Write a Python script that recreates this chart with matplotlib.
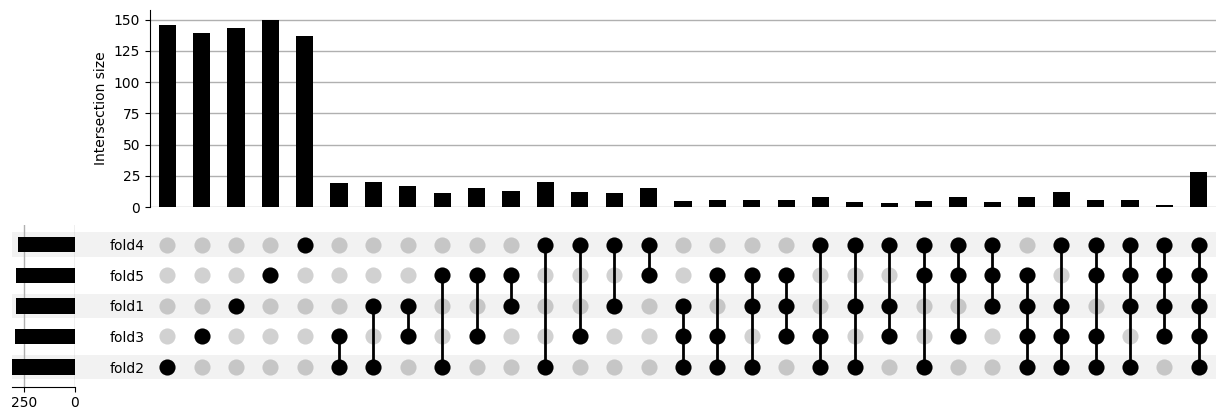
import numpy as np
import matplotlib
matplotlib.use("Agg")
import matplotlib.pyplot as plt
from matplotlib.patches import Rectangle
from matplotlib.transforms import blended_transform_factory

# categories, bottom row first
sets = ["fold2", "fold3", "fold1", "fold5", "fold4"]

# intersections, left to right
combos = [
    ("fold2",), ("fold3",), ("fold1",), ("fold5",), ("fold4",),
    ("fold3", "fold2"), ("fold1", "fold2"), ("fold1", "fold3"),
    ("fold5", "fold2"), ("fold5", "fold3"), ("fold5", "fold1"),
    ("fold4", "fold2"), ("fold4", "fold3"), ("fold4", "fold1"), ("fold4", "fold5"),
    ("fold1", "fold3", "fold2"), ("fold5", "fold3", "fold2"),
    ("fold5", "fold1", "fold2"), ("fold5", "fold1", "fold3"),
    ("fold4", "fold3", "fold2"), ("fold4", "fold1", "fold2"),
    ("fold4", "fold1", "fold3"), ("fold4", "fold5", "fold2"),
    ("fold4", "fold5", "fold3"), ("fold4", "fold5", "fold1"),
    ("fold5", "fold1", "fold3", "fold2"), ("fold4", "fold1", "fold3", "fold2"),
    ("fold4", "fold5", "fold3", "fold2"), ("fold4", "fold5", "fold1", "fold2"),
    ("fold4", "fold5", "fold1", "fold3"),
    ("fold4", "fold5", "fold1", "fold3", "fold2"),
]
sizes = [146, 139, 143, 150, 137,
         19, 20, 17, 11, 15, 13, 20, 12, 11, 15,
         5, 6, 6, 6, 8, 4, 3, 5, 8, 4,
         8, 12, 6, 6, 2,
         28]

yticks_bar = [0, 25, 50, 75, 100, 125, 150]
xticks_tot = [250, 0]

totals = [sum(s for c, s in zip(combos, sizes) if name in c) for name in sets]
n = len(combos)
x = np.arange(n)

fig = plt.figure(figsize=(12.27, 4.2), dpi=100)

# matrix axes
ax_m = fig.add_axes([0.1222, 0.0793, 0.8688, 0.385])
ax_m.set_xlim(-0.5, n - 0.5)
ax_m.set_ylim(-0.64, len(sets) - 1 + 0.64)

# row shading, reaching left under totals
tr = blended_transform_factory(fig.transFigure, ax_m.transData)
for i in range(len(sets)):
    if i % 2 == 0:
        ax_m.add_patch(Rectangle((0.0098, i - 0.4), 0.9912 - 0.0098, 0.8,
                                 transform=tr, color="black", alpha=0.05,
                                 lw=0, clip_on=False, zorder=0))

for j, c in enumerate(combos):
    ys = [sets.index(s) for s in c]
    for i in range(len(sets)):
        if i in ys:
            ax_m.scatter(j, i, s=135, color="black", zorder=3, lw=0)
        else:
            ax_m.scatter(j, i, s=135, color="black", alpha=0.18, zorder=2, lw=0)
    if len(ys) > 1:
        ax_m.plot([j, j], [min(ys), max(ys)], color="black", lw=2, zorder=2)

ax_m.set_yticks(range(len(sets)))
ax_m.set_yticklabels(sets)
ax_m.tick_params(axis="y", length=0, pad=4, labelsize=10)
ax_m.set_xticks([])
for sp in ax_m.spines.values():
    sp.set_visible(False)
ax_m.patch.set_alpha(0)

# intersection size bars
ax_b = fig.add_axes([0.1222, 0.5071, 0.8688, 0.4683])
ax_b.bar(x, sizes, width=0.5, color="black", zorder=3)
ax_b.set_xlim(-0.5, n - 0.5)
ax_b.set_yticks(yticks_bar)
ax_b.set_ylabel("Intersection size", fontsize=10)
ax_b.set_xticks([])
ax_b.yaxis.grid(True, color="#b0b0b0", lw=1)
ax_b.set_axisbelow(True)
for sp in ["top", "right", "bottom"]:
    ax_b.spines[sp].set_visible(False)

# totals
ax_t = fig.add_axes([0.0098, 0.0793, 0.0513, 0.385])
ax_t.barh(range(len(sets)), totals, height=0.5, color="black", zorder=3)
ax_t.set_ylim(-0.64, len(sets) - 1 + 0.64)
ax_t.set_xlim(max(totals), 0)
ax_t.set_xticks(xticks_tot)
ax_t.set_yticks([])
ax_t.xaxis.grid(True, color="#b0b0b0", lw=1)
ax_t.set_axisbelow(True)
ax_t.patch.set_alpha(0)
for sp in ["top", "right", "left"]:
    ax_t.spines[sp].set_visible(False)

fig.savefig("out.png", dpi=100)
